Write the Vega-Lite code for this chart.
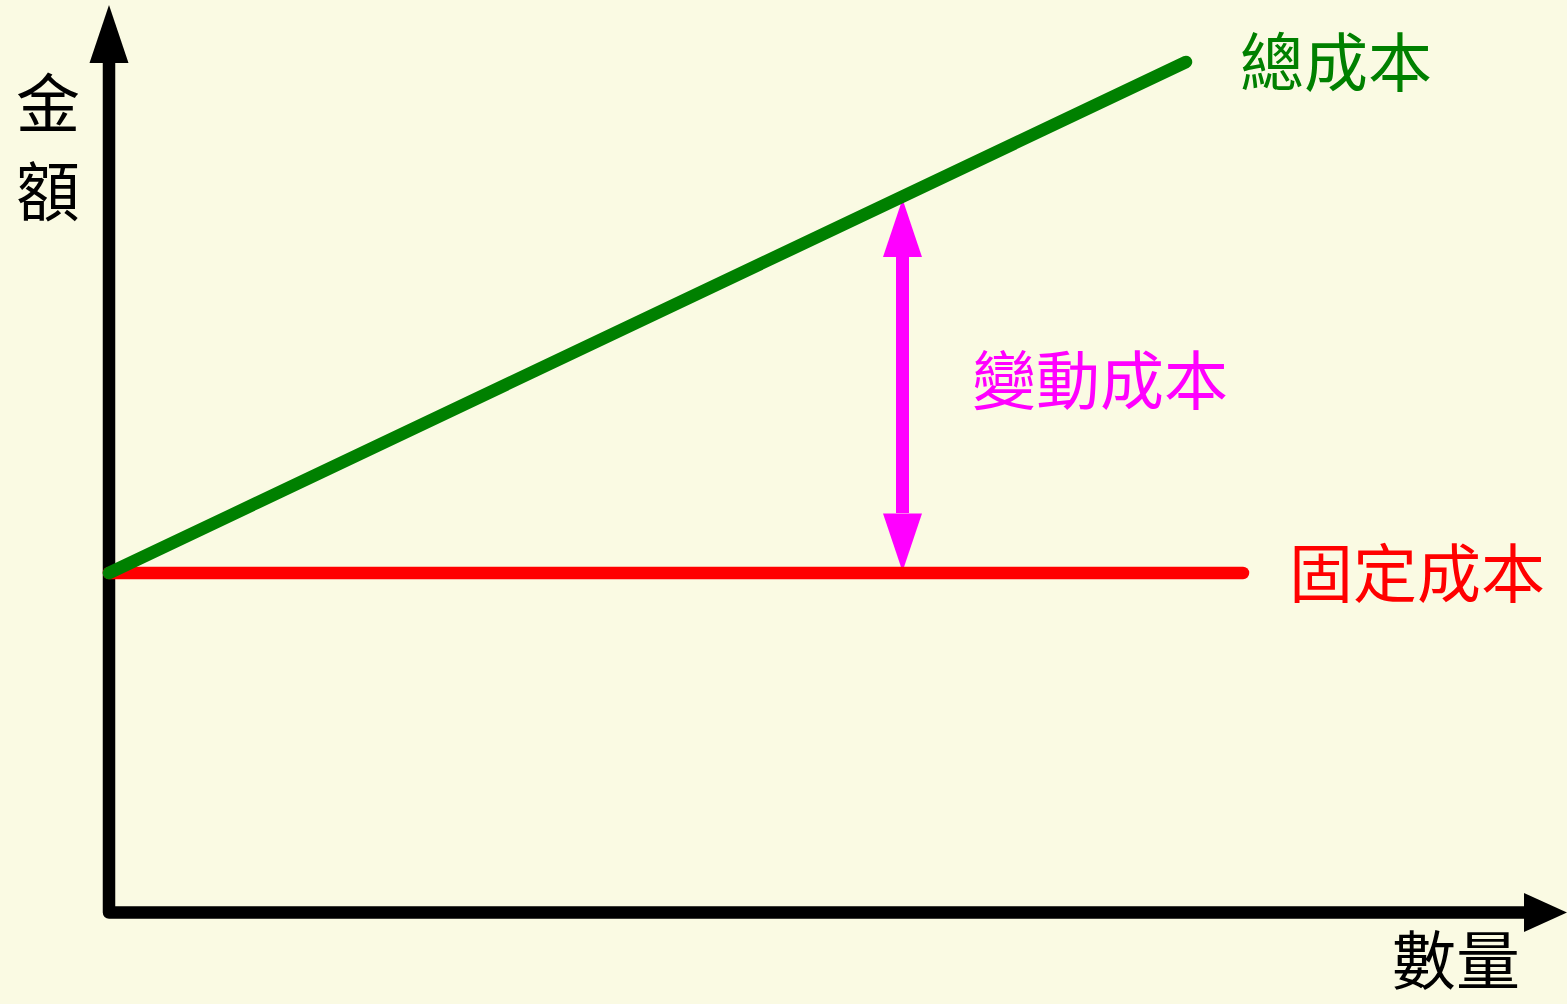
{
  "$schema": "https://vega.github.io/schema/vega-lite/v6.json",
  "width": 1567,
  "height": 1004,
  "padding": 0,
  "autosize": {"type": "fit", "contains": "padding"},
  "background": "#FAFAE3",
  "config": {"view": {"stroke": null}},
  "datasets": {
    "lines": [
      {"s": "軸", "o": 1, "q": 0, "a": 84.95},
      {"s": "軸", "o": 2, "q": 0, "a": 0},
      {"s": "軸", "o": 3, "q": 141.6, "a": 0},
      {"s": "變動成本", "o": 1, "q": 79.35, "a": 65.55},
      {"s": "變動成本", "o": 2, "q": 79.35, "a": 39.95},
      {"s": "固定成本", "o": 1, "q": 0, "a": 33.95},
      {"s": "固定成本", "o": 2, "q": 113.4, "a": 33.95},
      {"s": "總成本", "o": 1, "q": 0, "a": 33.95},
      {"s": "總成本", "o": 2, "q": 107.7, "a": 85.05}
    ],
    "heads": [
      {"s": "軸", "d": "up", "q": 0, "a": 87.85},
      {"s": "軸", "d": "right", "q": 143.65, "a": 0},
      {"s": "變動成本", "d": "up", "q": 79.35, "a": 68.45},
      {"s": "變動成本", "d": "down", "q": 79.35, "a": 37.0}
    ],
    "labels": [
      {"s": "總成本", "t": "總成本", "q": 122.7, "a": 84.6},
      {"s": "變動成本", "t": "變動成本", "q": 99.1, "a": 52.8},
      {"s": "固定成本", "t": "固定成本", "q": 130.8, "a": 33.5},
      {"s": "軸", "t": "數量", "q": 134.7, "a": -5.2},
      {"s": "軸", "t": "金", "q": -6.1, "a": 80.5},
      {"s": "軸", "t": "額", "q": -6.1, "a": 71.7}
    ]
  },
  "encoding": {
    "x": {"field": "q", "type": "quantitative", "axis": null, "scale": {"domain": [-10.9, 145.8], "nice": false, "zero": false}},
    "y": {"field": "a", "type": "quantitative", "axis": null, "scale": {"domain": [-9.15, 91.25], "nice": false, "zero": false}},
    "color": {"field": "s", "type": "nominal", "legend": null, "scale": {"domain": ["軸", "總成本", "固定成本", "變動成本"], "range": ["#000000", "#008000", "#FF0000", "#FF00FF"]}}
  },
  "layer": [
    {
      "data": {"name": "lines"},
      "transform": [{"filter": "datum.s === '軸'"}],
      "mark": {"type": "line", "strokeWidth": 12.5, "strokeCap": "round", "strokeJoin": "round"},
      "encoding": {"order": {"field": "o", "type": "quantitative"}}
    },
    {
      "data": {"name": "heads"},
      "mark": {"type": "point", "filled": true, "opacity": 1, "size": 3364, "strokeWidth": 0},
      "encoding": {
        "shape": {"field": "d", "type": "nominal", "legend": null, "scale": {"domain": ["up", "down", "right"], "range": ["M0,-1L0.672,1L-0.672,1Z", "M0,1L0.672,-1L-0.672,-1Z", "M0.741,0L-0.741,0.672L-0.741,-0.672Z"]}}
      }
    },
    {
      "data": {"name": "lines"},
      "transform": [{"filter": "datum.s === '變動成本'"}],
      "mark": {"type": "line", "strokeWidth": 13, "strokeCap": "butt"},
      "encoding": {"order": {"field": "o", "type": "quantitative"}}
    },
    {
      "data": {"name": "lines"},
      "transform": [{"filter": "datum.s === '固定成本'"}],
      "mark": {"type": "line", "strokeWidth": 12.5, "strokeCap": "round"},
      "encoding": {"order": {"field": "o", "type": "quantitative"}}
    },
    {
      "data": {"name": "lines"},
      "transform": [{"filter": "datum.s === '總成本'"}],
      "mark": {"type": "line", "strokeWidth": 12.5, "strokeCap": "round"},
      "encoding": {"order": {"field": "o", "type": "quantitative"}}
    },
    {
      "data": {"name": "labels"},
      "mark": {"type": "text", "font": "Noto Sans CJK TC", "fontSize": 64, "align": "center", "baseline": "middle"},
      "encoding": {"text": {"field": "t", "type": "nominal"}}
    }
  ]
}
